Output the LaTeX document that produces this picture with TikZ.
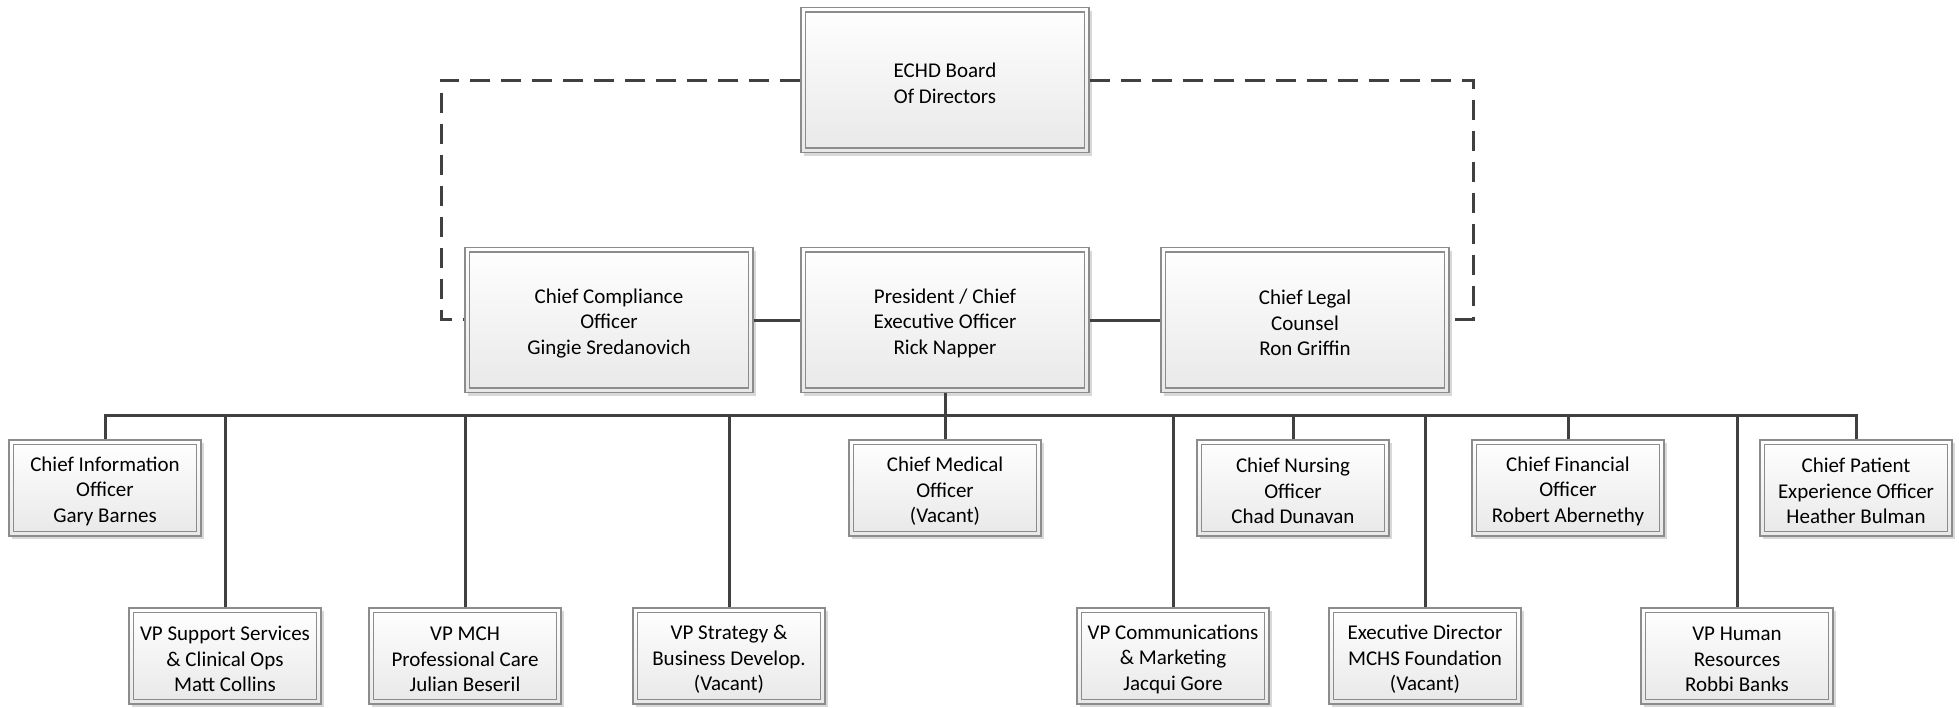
\documentclass[tikz,border=0pt]{standalone}
\usepackage{fontspec}
\setmainfont{Carlito}
\usetikzlibrary{shadows}
\definecolor{linec}{HTML}{404040}
\definecolor{framec}{HTML}{8C8C8C}
% extra head room on the first text line of a box
\newcommand\boxtop{\rule{0pt}{21pt}}
\tikzset{
  orgbox/.style={draw=framec, line width=1.2pt, top color=white, bottom color=black!9,
    align=center, inner sep=0pt, text=black,
    font=\fontsize{21}{25.5}\selectfont,
    drop shadow={shadow xshift=3pt, shadow yshift=-3pt, fill=black!30, opacity=0.5},
    path picture={\draw[framec, line width=1.2pt]
      ([shift={(4.5pt,4.5pt)}]path picture bounding box.south west) rectangle
      ([shift={(-4.5pt,-4.5pt)}]path picture bounding box.north east);}},
  bigbox/.style={orgbox, minimum width=288pt, minimum height=145pt},
  smallbox/.style={orgbox, minimum width=192pt, minimum height=96pt},
  conn/.style={draw=linec, line width=3pt},
  link/.style={draw=linec, line width=3pt, dash pattern=on 20pt off 11pt},
}
\begin{document}
\begin{tikzpicture}[x=1pt, y=1pt]
  \useasboundingbox (0,0) rectangle (1959,-707);

  % top level
  \node[bigbox] (board) at (945,-80) {\boxtop ECHD Board\\Of Directors};
  \node[bigbox] (cco) at (609,-320) {\boxtop Chief Compliance\\Officer\\Gingie Sredanovich};
  \node[bigbox] (ceo) at (945,-320) {\boxtop President / Chief\\Executive Officer\\Rick Napper};
  \node[bigbox] (clc) at (1305,-320) {\boxtop Chief Legal\\Counsel\\Ron Griffin};

  % upper row of direct reports
  \node[smallbox] (cio)  at (105,-488)  {\boxtop Chief Information\\Officer\\Gary Barnes};
  \node[smallbox] (cmo)  at (945,-488)  {\boxtop Chief Medical\\Officer\\(Vacant)};
  \node[smallbox] (cno)  at (1293,-488) {\boxtop Chief Nursing\\Officer\\Chad Dunavan};
  \node[smallbox] (cfo)  at (1568,-488) {\boxtop Chief Financial\\Officer\\Robert Abernethy};
  \node[smallbox] (cpeo) at (1856,-488) {\boxtop Chief Patient\\Experience Officer\\Heather Bulman};

  % lower row of direct reports
  \node[smallbox] (vpss)  at (225,-656)  {\boxtop VP Support Services\\\& Clinical Ops\\Matt Collins};
  \node[smallbox] (vpmch) at (465,-656)  {\boxtop VP MCH\\Professional Care\\Julian Beseril};
  \node[smallbox] (vpsbd) at (729,-656)  {\boxtop VP Strategy \&\\Business Develop.\\(Vacant)};
  \node[smallbox] (vpcm)  at (1173,-656) {\boxtop VP Communications\\\& Marketing\\Jacqui Gore};
  \node[smallbox] (edf)   at (1425,-656) {\boxtop Executive Director\\MCHS Foundation\\(Vacant)};
  \node[smallbox] (vphr)  at (1737,-656) {\boxtop VP Human\\Resources\\Robbi Banks};

  % bus line
  \coordinate (bus) at (945,-415);

  % dashed board links
  \draw[link] (board.west) -- (441,-80) -- (441,-319) -- (cco.west |- 0,-319);
  \draw[link] (board.east) -- (1473,-80) -- (1473,-319) -- (clc.east |- 0,-319);

  % CEO peers
  \draw[conn] (cco.east) -- (ceo.west);
  \draw[conn] (ceo.east) -- (clc.west);

  % CEO to bus
  \draw[conn] (ceo.south) -- (bus);
  \draw[conn] (cio.north) -- (cio.north |- bus) -- (cpeo.north |- bus) -- (cpeo.north);
  \foreach \n in {cmo,cno,cfo,vpss,vpmch,vpsbd,vpcm,edf,vphr}
    \draw[conn] (\n.north) -- (\n.north |- bus);
\end{tikzpicture}
\end{document}
